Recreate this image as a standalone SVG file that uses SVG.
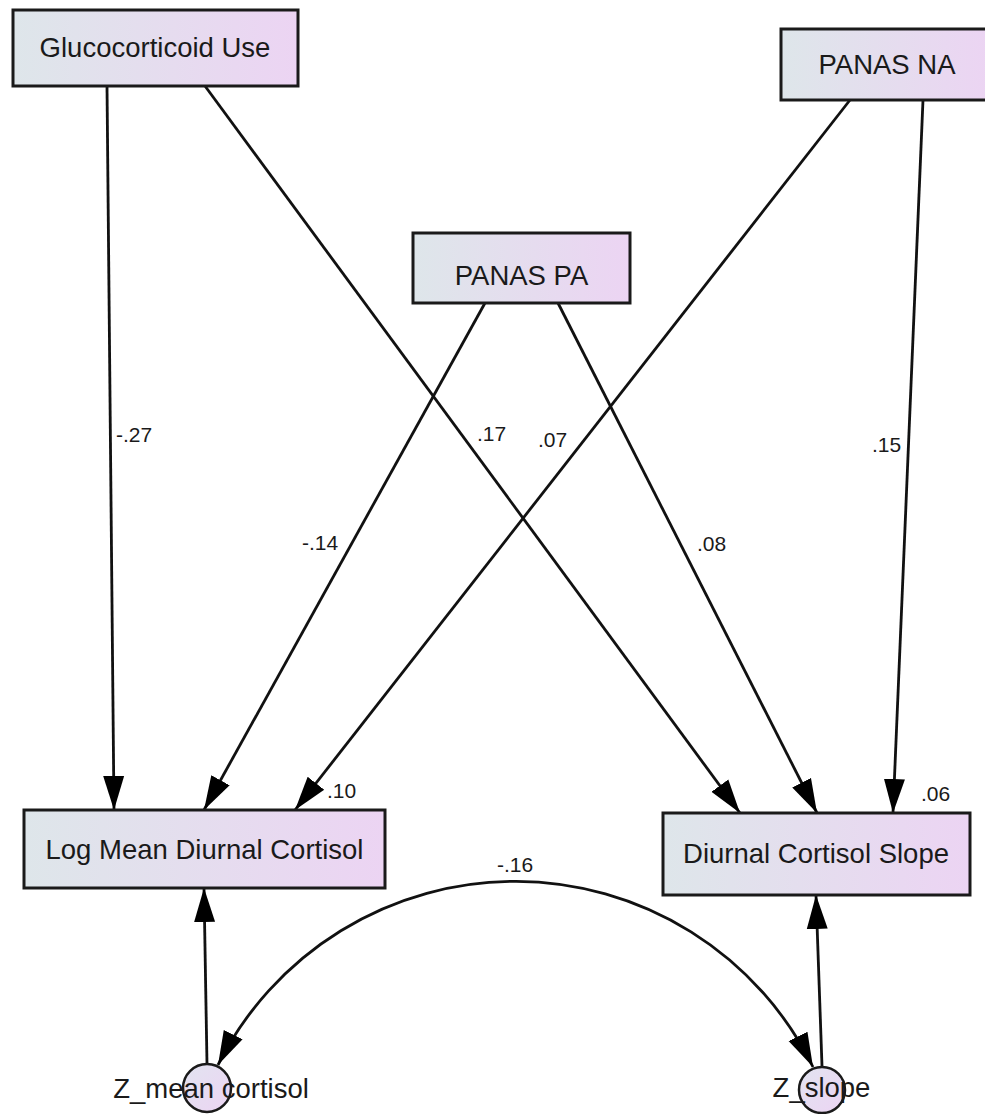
<svg xmlns="http://www.w3.org/2000/svg" width="985" height="1114" viewBox="0 0 985 1114">
<style>
.box{stroke:#1a1a1a;stroke-width:3;fill:url(#g)}
.circ{stroke:#1a1a1a;stroke-width:2.5;fill:url(#gc)}
.nt{font-family:"Liberation Sans",Arial,sans-serif;font-size:27.5px;fill:#1a1a1a;text-anchor:middle}
.lb{font-family:"Liberation Sans",Arial,sans-serif;font-size:21px;fill:#1a1a1a}
.ln{stroke:#111;stroke-width:2.8;fill:none;marker-end:url(#ah)}
</style>
<defs>
<linearGradient id="g" x1="0" y1="0" x2="1" y2="0">
<stop offset="0" stop-color="#dee6ea"/>
<stop offset="1" stop-color="#ecd4f3"/>
</linearGradient>
<linearGradient id="gc" x1="0" y1="0" x2="1" y2="1">
<stop offset="0" stop-color="#e2e4f0"/>
<stop offset="1" stop-color="#ecd4f3"/>
</linearGradient>
<marker id="ah" markerUnits="userSpaceOnUse" markerWidth="36" markerHeight="24" refX="34" refY="12" orient="auto-start-reverse">
<path d="M0,1.5 L34,12 L0,22.5 z" fill="#000"/>
</marker>
</defs>
<g id="connectors">
<line class="ln" x1="107" y1="86" x2="114" y2="810"/>
<line class="ln" x1="205" y1="86" x2="740" y2="813"/>
<line class="ln" x1="485" y1="303" x2="204" y2="810"/>
<line class="ln" x1="558" y1="303" x2="817" y2="813"/>
<line class="ln" x1="850" y1="100" x2="295" y2="810"/>
<line class="ln" x1="923" y1="100" x2="893" y2="813"/>
<line class="ln" x1="207" y1="1064" x2="204" y2="888"/>
<line class="ln" x1="822" y1="1066" x2="816" y2="895"/>
<path class="ln" d="M 218 1065 A 332 332 0 0 1 813 1067" style="marker-start:url(#ah)"/>
<text class="lb" x="116" y="442">-.27</text>
<text class="lb" x="477" y="441">.17</text>
<text class="lb" x="538" y="447">.07</text>
<text class="lb" x="302" y="550">-.14</text>
<text class="lb" x="697" y="551">.08</text>
<text class="lb" x="872" y="452">.15</text>
<text class="lb" x="497" y="872">-.16</text>
</g>
<g id="glucocorticoid">
<rect class="box" x="13" y="10" width="285" height="76"/>
<text class="nt" x="155" y="57">Glucocorticoid Use</text>
</g>
<g id="panas-na">
<rect class="box" x="781" y="29" width="212" height="71"/>
<text class="nt" x="887" y="74">PANAS NA</text>
</g>
<g id="panas-pa">
<rect class="box" x="413" y="233" width="217" height="70"/>
<text class="nt" x="521.5" y="285">PANAS PA</text>
</g>
<g id="log-mean">
<rect class="box" x="24" y="810" width="361" height="78"/>
<text class="nt" x="204.5" y="859">Log Mean Diurnal Cortisol</text>
<text class="lb" x="327" y="798">.10</text>
</g>
<g id="slope">
<rect class="box" x="663" y="813" width="307" height="82"/>
<text class="nt" x="816" y="863">Diurnal Cortisol Slope</text>
<text class="lb" x="921" y="801">.06</text>
</g>
<g id="z-mean">
<circle class="circ" cx="207" cy="1088" r="24"/>
<text class="nt" x="211" y="1098">Z_mean cortisol</text>
</g>
<g id="z-slope">
<circle class="circ" cx="822" cy="1090" r="23"/>
<text class="nt" x="821.5" y="1097">Z_slope</text>
</g>
</svg>
